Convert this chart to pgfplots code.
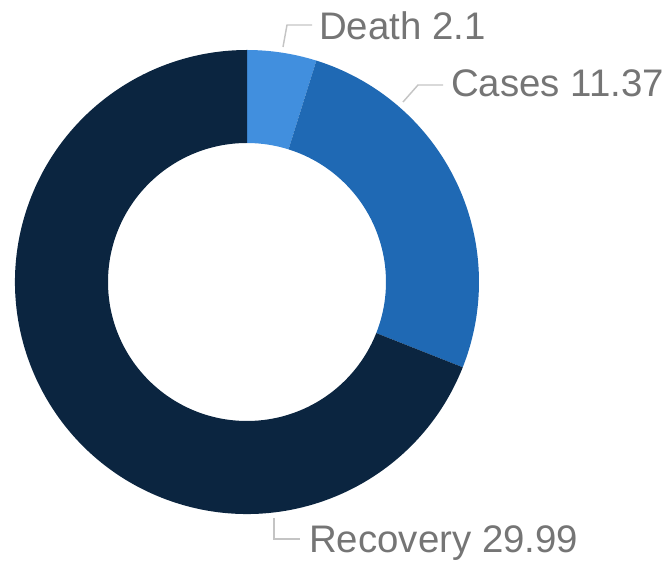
\documentclass[border=0pt]{standalone}
\usepackage{pgfplots}
\usepackage{pgfplotstable}
\pgfplotsset{compat=1.18}
\usepackage{fontspec}
\setmainfont{Liberation Sans}
\definecolor{cDeath}{HTML}{418FDE}
\definecolor{cCases}{HTML}{1F69B4}
\definecolor{cRecov}{HTML}{0B2540}
\definecolor{lblgray}{HTML}{757575}
\definecolor{leadgray}{HTML}{C4C4C4}

\pgfplotstableread{
label value
Death 2.1
Cases 11.37
Recovery 29.99
}\donutdata

% values and angles (clockwise from the top)
\pgfplotstablegetelem{0}{value}\of\donutdata \let\vA\pgfplotsretval
\pgfplotstablegetelem{1}{value}\of\donutdata \let\vB\pgfplotsretval
\pgfplotstablegetelem{2}{value}\of\donutdata \let\vC\pgfplotsretval
\pgfplotstablegetelem{0}{label}\of\donutdata \let\lA\pgfplotsretval
\pgfplotstablegetelem{1}{label}\of\donutdata \let\lB\pgfplotsretval
\pgfplotstablegetelem{2}{label}\of\donutdata \let\lC\pgfplotsretval
\pgfmathsetmacro\tot{\vA+\vB+\vC}
\pgfmathsetmacro\aA{90}
\pgfmathsetmacro\aB{90-360*\vA/\tot}
\pgfmathsetmacro\aC{\aB-360*\vB/\tot}
\pgfmathsetmacro\aD{90-360}

% geometry in pixel units (1px = 0.75pt)
\def\cx{247}\def\cy{293}
\def\Ro{232}\def\Ri{139}

\newcommand\slice[3]{% start angle, end angle, colour
  \fill[#3] (axis cs:{\cx+\Ro*cos(#1)},{\cy+\Ro*sin(#1)})
    arc[start angle=#1, end angle=#2, radius=\Ro*0.75pt]
    -- (axis cs:{\cx+\Ri*cos(#2)},{\cy+\Ri*sin(#2)})
    arc[start angle=#2, end angle=#1, radius=\Ri*0.75pt] -- cycle;}

\begin{document}
\begin{tikzpicture}
\begin{axis}[
  width=501.75pt, height=431.25pt, scale only axis,
  xmin=0, xmax=669, ymin=0, ymax=575,
  hide axis, clip=false,
]
\slice{\aA}{\aB}{cDeath}
\slice{\aB}{\aC}{cCases}
\slice{\aC}{\aD}{cRecov}

\draw[leadgray, line width=1.1pt] (axis cs:283,528) -- (axis cs:287,550) -- (axis cs:312,550);
\draw[leadgray, line width=1.1pt] (axis cs:403,473) -- (axis cs:418,490) -- (axis cs:443,490);
\draw[leadgray, line width=1.1pt] (axis cs:274,57) -- (axis cs:274,36) -- (axis cs:300,36);

\tikzset{lbl/.style={anchor=base west, inner sep=0pt, text=lblgray,
  font=\fontsize{28.8}{34}\selectfont}}
\node[lbl] at (axis cs:319,535) {\lA\ \vA};
\node[lbl] at (axis cs:451,478) {\lB\ \vB};
\node[lbl] at (axis cs:309,22) {\lC\ \vC};
\end{axis}
\pgfresetboundingbox
\path (current axis.south west) rectangle (current axis.north east);
\end{tikzpicture}
\end{document}
